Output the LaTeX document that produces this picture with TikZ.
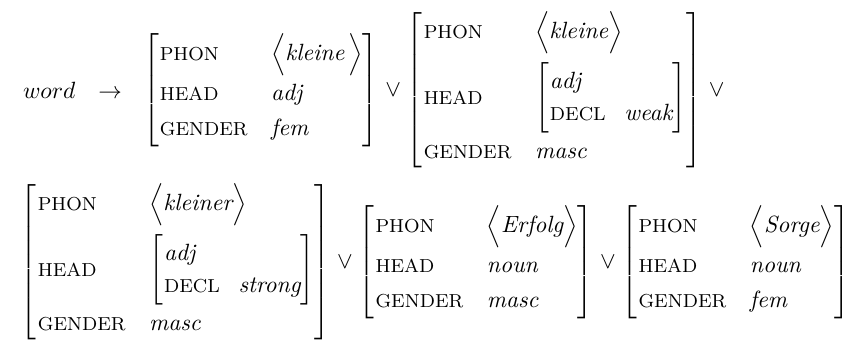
\documentclass[tikz,border=0pt]{standalone}
\usepackage{amsmath}
\usepackage{tikz}
\usetikzlibrary{positioning}
\newcommand{\featname}[1]{\mbox{\footnotesize #1}}
\newcommand{\featval}[1]{\mbox{\itshape #1}}
\newcommand{\phonlist}[1]{\Big\langle\featval{#1}\Big\rangle}
\newcommand{\avmmat}[1]{\def\arraystretch{1.25}\left[\begin{array}{@{\hspace{0.5pt}}l@{\hspace{10pt}}l@{}}#1\end{array}\right]}
\newcommand{\avminner}[1]{{\def\arraystretch{1.15}\left[\begin{array}{@{\hspace{0.5pt}}l@{\hspace{8pt}}l@{}}#1\end{array}\right]}}
\tikzstyle{avmbox} = [inner sep=0pt, outer sep=0pt]
\tikzstyle{orsym} = [inner sep=0pt, outer sep=0pt]

\begin{document}
\begin{tikzpicture}[x=0.4255pt, y=-0.4255pt]
	\useasboundingbox (0,0) rectangle (846,340);
	\node [avmbox, anchor=west] (avmA) at (143,90) {$\avmmat{
		\featname{PHON} & \phonlist{kleine\,} \\
		\featname{HEAD} & \featval{adj} \\
		\featname{GENDER} & \featval{fem}
	}$};
	\node [avmbox, left=9pt of avmA] (lhs) {$word\hspace{7pt}\rightarrow$};
	\node [orsym, right=3pt of avmA] (orA) {$\vee$};
	\node [avmbox, right=2.5pt of orA] (avmB) {$\avmmat{
		\featname{PHON} & \phonlist{kleine} \\[6pt]
		\featname{HEAD} & \avminner{\featval{adj} & \\ \featname{DECL} & \featval{weak}} \\
		\featname{GENDER} & \featval{masc}
	}$};
	\node [orsym, right=3pt of avmB] (orB) {$\vee$};
	\node [avmbox, anchor=west] (avmC) at (21,262) {$\avmmat{
		\featname{PHON} & \phonlist{kleiner} \\[6pt]
		\featname{HEAD} & \avminner{\featval{adj} & \\ \featname{DECL} & \featval{strong}} \\
		\featname{GENDER} & \featval{masc}
	}$};
	\node [orsym, right=3pt of avmC] (orC) {$\vee$};
	\node [avmbox, right=2.5pt of orC] (avmD) {$\avmmat{
		\featname{PHON} & \phonlist{Erfolg} \\
		\featname{HEAD} & \featval{noun} \\
		\featname{GENDER} & \featval{masc}
	}$};
	\node [orsym, right=3pt of avmD] (orD) {$\vee$};
	\node [avmbox, right=2.5pt of orD] (avmE) {$\avmmat{
		\featname{PHON} & \phonlist{Sorge} \\
		\featname{HEAD} & \featval{noun} \\
		\featname{GENDER} & \featval{fem}
	}$};
\end{tikzpicture}
\end{document}
